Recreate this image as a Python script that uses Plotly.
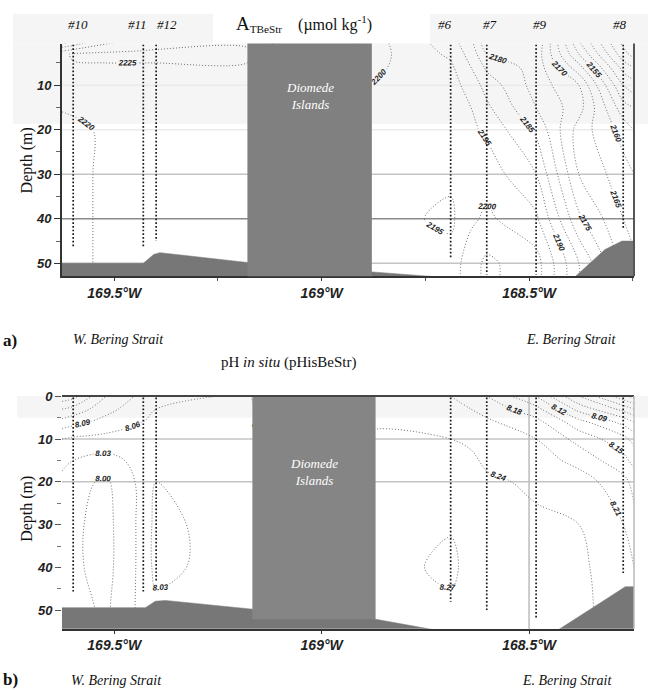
import plotly.graph_objects as go

W, H = 648, 690
def px(x): return x / W
def py(y): return 1 - y / H

# ---------------- data ----------------
station_names = ["#10", "#11", "#12", "#6", "#7", "#9", "#8"]
station_lon = [169.599, 169.430, 169.399, 168.689, 168.602, 168.483, 168.273]
station_label_lon = [169.587, 169.444, 169.372, 168.702, 168.593, 168.474, 168.280]
station_bottom_a = [46.2, 46.2, 45.0, 48.7, 52.5, 52.5, 42.0]
station_bottom_b = [45.6, 45.6, 43.3, 48.0, 50.0, 52.0, 41.5]

grid_lon = [169.626, 169.599, 169.52, 169.430, 169.399, 169.18,
            168.879, 168.689, 168.64, 168.602, 168.483, 168.38, 168.273, 168.247]
grid_depth = [0, 3, 6, 10, 15, 20, 30, 40, 50, 54]

alk = [
    [2206, 2209, 2218, 2222, 2223, 2224,  2202, 2192, 2186, 2176, 2180, 2150, 2128, 2125],
    [2224, 2225.5, 2226, 2226, 2226, 2226, 2202, 2194, 2188, 2180, 2178, 2155, 2132, 2128],
    [2224.5, 2224.5, 2224.5, 2224.5, 2224.5, 2224.5, 2201, 2196, 2190, 2184, 2178, 2162, 2138, 2135],
    [2222, 2222, 2223, 2223, 2223, 2223, 2200, 2197, 2193, 2188, 2178, 2170, 2145, 2142],
    [2220.5, 2221, 2222, 2223, 2223, 2223, 2199, 2197, 2195, 2191, 2180, 2172, 2152, 2150],
    [2218, 2218.5, 2221, 2223, 2223, 2223, 2198, 2197, 2196, 2194, 2184, 2168, 2158, 2155],
    [2218, 2218.5, 2221, 2222, 2222, 2222, 2197, 2196, 2197, 2198, 2190, 2170, 2162, 2160],
    [2218, 2218.5, 2221, 2222, 2222, 2222, 2197, 2194, 2199, 2201, 2196, 2176, 2165, 2163],
    [2218, 2218.5, 2221, 2222, 2222, 2222, 2198, 2197, 2203, 2206, 2202, 2185, 2168, 2166],
    [2218, 2218.5, 2221, 2222, 2222, 2222, 2198, 2197, 2203, 2206, 2202, 2185, 2168, 2166],
]

ph = [
    [8.20, 8.19, 8.12, 8.08, 8.07, 8.055,  8.22, 8.21, 8.195, 8.18, 8.12, 8.03, 7.95, 7.93],
    [8.15, 8.14, 8.10, 8.07, 8.06, 8.05,   8.225, 8.22, 8.21, 8.20, 8.16, 8.08, 8.02, 8.00],
    [8.11, 8.10, 8.08, 8.06, 8.05, 8.05,   8.235, 8.232, 8.225, 8.215, 8.19, 8.13, 8.08, 8.06],
    [8.06, 8.055, 8.05, 8.04, 8.04, 8.04,  8.245, 8.24, 8.235, 8.225, 8.21, 8.17, 8.13, 8.11],
    [8.04, 8.03, 8.02, 8.04, 8.04, 8.04,   8.25, 8.25, 8.245, 8.235, 8.225, 8.20, 8.16, 8.14],
    [8.02, 8.01, 7.995, 8.04, 8.03, 8.04,  8.255, 8.26, 8.25, 8.245, 8.235, 8.225, 8.19, 8.17],
    [8.01, 8.005, 7.99, 8.04, 8.025, 8.04, 8.26, 8.268, 8.26, 8.255, 8.245, 8.24, 8.21, 8.19],
    [8.01, 8.005, 7.99, 8.04, 8.025, 8.04, 8.26, 8.275, 8.262, 8.26, 8.25, 8.245, 8.225, 8.21],
    [8.02, 8.01, 7.995, 8.04, 8.035, 8.035, 8.26, 8.265, 8.26, 8.26, 8.25, 8.245, 8.23, 8.22],
    [8.02, 8.01, 7.995, 8.04, 8.035, 8.035, 8.26, 8.265, 8.26, 8.26, 8.25, 8.245, 8.23, 8.22],
]

island_a_lon = [169.179, 168.879]
island_b_lon = [169.167, 168.870]
island_b_bottom = 52.1

bathy_a_lon = [169.626, 169.430, 169.405, 169.39, 169.18, 168.879, 168.727, 168.389, 168.317, 168.276, 168.247]
bathy_a_depth = [50.0, 50.0, 48.0, 47.6, 49.8, 52.0, 53.0, 53.0, 46.9, 45.0, 45.0]
bathy_b_lon = [169.626, 169.425, 169.401, 169.377, 169.172, 168.870, 168.727, 168.430, 168.324, 168.268, 168.244]
bathy_b_depth = [49.4, 49.4, 47.9, 47.7, 49.7, 52.1, 54.6, 54.6, 48.0, 44.5, 44.5]

tick_lon = [169.5, 169.0, 168.5]
tick_text = ["169.5°W", "169°W", "168.5°W"]
depth_ticks_a = [10, 20, 30, 40, 50]
depth_ticks_b = [0, 10, 20, 30, 40, 50]

# ---------------- figure ----------------
neg = lambda L: [-v for v in L]
fig = go.Figure()

XR = [-169.626, -168.247]
XDOM = [px(62), px(634)]
YDOM_A = [py(272), py(37)]
YDOM_B = [py(628), py(393)]
RANGE_A = [52.9, 0.67]
RANGE_B = [54.3, -0.05]

lblfont = dict(family="Liberation Sans", size=8, color="#222", weight="bold", style="italic")

fig.add_trace(go.Contour(
    x=neg(grid_lon), y=grid_depth, z=alk, xaxis="x", yaxis="y",
    contours=dict(start=2125, end=2225, size=5, coloring="none",
                  showlabels=True, labelfont=lblfont, labelformat=".0f"),
    line=dict(color="#6e6e6e", width=1, dash="1px,2px"), showscale=False, hoverinfo="skip"))
fig.add_trace(go.Contour(
    x=neg(grid_lon), y=grid_depth, z=ph, xaxis="x2", yaxis="y2",
    contours=dict(start=7.94, end=8.27, size=0.03, coloring="none",
                  showlabels=True, labelfont=lblfont, labelformat=".2f"),
    line=dict(color="#6e6e6e", width=1, dash="1px,2px"), showscale=False, hoverinfo="skip"))

# bathymetry
for lon, dep, xa, ya in [(bathy_a_lon, bathy_a_depth, "x", "y"), (bathy_b_lon, bathy_b_depth, "x2", "y2")]:
    xs = neg(lon) + [-lon[-1], -lon[0]]
    ys = dep + [60, 60]
    fig.add_trace(go.Scatter(x=xs, y=ys, xaxis=xa, yaxis=ya, mode="lines", fill="toself",
                             fillcolor="#777777", line=dict(color="#777777", width=0.5),
                             hoverinfo="skip", showlegend=False))

# stations
for bottoms, xa, ya, top in [(station_bottom_a, "x", "y", 0.9), (station_bottom_b, "x2", "y2", 0.3)]:
    for lon, b in zip(station_lon, bottoms):
        fig.add_trace(go.Scatter(x=[-lon, -lon], y=[top, b], xaxis=xa, yaxis=ya, mode="lines",
                                 line=dict(color="#1a1a1a", width=1.7, dash="1.7px,2px"),
                                 hoverinfo="skip", showlegend=False))

shapes = []
for (x0, y0, x1, y1) in [(13, 7, 213, 37), (430, 7, 648, 37), (13, 37, 648, 118), (17, 393, 648, 415)]:
    shapes.append(dict(type="rect", xref="paper", yref="paper", x0=px(x0), x1=px(x1), y0=py(y1), y1=py(y0),
                       fillcolor="#f5f5f5", line=dict(width=0), layer="below"))
for d, c in [(10, "#ebebeb"), (20, "#ebebeb"), (30, "#c4c4c4"), (40, "#8a8a8a"), (50, "#c4c4c4")]:
    shapes.append(dict(type="line", xref="x domain", yref="y", x0=0, x1=1, y0=d, y1=d,
                       line=dict(color=c, width=1.5), layer="below"))
for d in [10, 20]:
    shapes.append(dict(type="line", xref="x2 domain", yref="y2", x0=0, x1=1, y0=d, y1=d,
                       line=dict(color="#c4c4c4", width=1.5), layer="below"))
shapes.append(dict(type="line", xref="x2", yref="y2 domain", x0=-168.5, x1=-168.5, y0=0, y1=1,
                   line=dict(color="#bbbbbb", width=1.5), layer="below"))
shapes.append(dict(type="rect", xref="x", yref="y domain", x0=-island_a_lon[0], x1=-island_a_lon[1],
                   y0=0, y1=1, fillcolor="#808080", line=dict(width=0), layer="above"))
shapes.append(dict(type="rect", xref="x2", yref="y2", x0=-island_b_lon[0], x1=-island_b_lon[1],
                   y0=0, y1=island_b_bottom, fillcolor="#858585", line=dict(width=0), layer="above"))
shapes.append(dict(type="line", xref="x domain", yref="y domain", x0=1, x1=1, y0=0, y1=1,
                   line=dict(color="#555", width=2), layer="above"))
shapes.append(dict(type="line", xref="x2 domain", yref="y2 domain", x0=0, x1=1, y0=1, y1=1,
                   line=dict(color="#444", width=2), layer="above"))
shapes.append(dict(type="line", xref="x2 domain", yref="y2 domain", x0=1, x1=1, y0=0, y1=1,
                   line=dict(color="#bbbbbb", width=1.5), layer="above"))

tickfont_y = dict(family="Liberation Sans", size=13, color="#222", weight="bold", style="italic")
tickfont_x = dict(family="Liberation Sans", size=14, color="#222", weight="bold", style="italic")

serif = "Liberation Serif"
ann = []
def A(text, x, y, size=14, xref="paper", yref="paper", color="#111", xanchor="center", angle=0, italic=False, bold=False):
    f = dict(family=serif, size=size, color=color)
    if italic: f["style"] = "italic"
    if bold: f["weight"] = "bold"
    ann.append(dict(text=text, x=x, y=y, xref=xref, yref=yref, showarrow=False, font=f,
                    xanchor=xanchor, yanchor="middle", textangle=angle))

for n, lon in zip(station_names, station_label_lon):
    A(n, -lon, py(18), size=13, xref="x", italic=True)
A("<span style='font-size:19px'>A</span><sub>TBeStr</sub>    (µmol kg<sup>-1</sup>)", px(304), py(17), size=16)
A("pH <i>in situ</i> (pHisBeStr)", px(288), py(359), size=15)
A("Diomede<br>Islands", -(island_a_lon[0] + island_a_lon[1]) / 2, 12.5, size=13, xref="x", yref="y", color="white", italic=True)
A("Diomede<br>Islands", -(island_b_lon[0] + island_b_lon[1]) / 2, 17.8, size=13, xref="x2", yref="y2", color="white", italic=True)
A("Depth (m)", px(27), py(155), size=16, angle=-90)
A("Depth (m)", px(27), py(507), size=16, angle=-90)
A("W. Bering Strait", px(118), py(336), size=14, italic=True)
A("E. Bering Strait", px(571), py(336), size=14, italic=True)
A("W. Bering Strait", px(116), py(680), size=14, italic=True)
A("E. Bering Strait", px(567), py(680), size=14, italic=True)
A("a)", px(1), py(337), size=17, xanchor="left", bold=True)
A("b)", px(1), py(679), size=17, xanchor="left", bold=True)

fig.update_layout(
    width=W, height=H, margin=dict(l=0, r=0, t=0, b=0),
    paper_bgcolor="white", plot_bgcolor="rgba(0,0,0,0)", showlegend=False,
    shapes=shapes, annotations=ann,
    xaxis=dict(domain=XDOM, range=XR, anchor="y", tickvals=neg(tick_lon), ticktext=tick_text,
               ticks="outside", ticklen=3, tickcolor="#333", showgrid=False, zeroline=False,
               showline=True, linecolor="#333", linewidth=2, tickfont=tickfont_x,
               minor=dict(ticks="outside", ticklen=3, tickcolor="#555", dtick=0.25, tick0=-169.5, showgrid=False)),
    yaxis=dict(domain=YDOM_A, range=RANGE_A, anchor="x", tickvals=depth_ticks_a,
               ticks="outside", ticklen=6, tickcolor="#333", showgrid=False, zeroline=False,
               showline=True, linecolor="#333", linewidth=2, tickfont=tickfont_y,
               minor=dict(ticks="outside", ticklen=4, tickcolor="#666", dtick=5, tick0=0, showgrid=False)),
    xaxis2=dict(domain=XDOM, range=XR, anchor="y2", tickvals=neg(tick_lon), ticktext=tick_text,
                ticks="outside", ticklen=3, tickcolor="#333", showgrid=False, zeroline=False,
                showline=True, linecolor="#333", linewidth=2, tickfont=tickfont_x),
    yaxis2=dict(domain=YDOM_B, range=RANGE_B, anchor="x2", tickvals=depth_ticks_b,
                ticks="outside", ticklen=6, tickcolor="#555", showgrid=False, zeroline=False,
                showline=False, tickfont=tickfont_y,
                minor=dict(ticks="outside", ticklen=4, tickcolor="#777", dtick=5, tick0=0, showgrid=False)),
)

fig.write_html("out.html")
